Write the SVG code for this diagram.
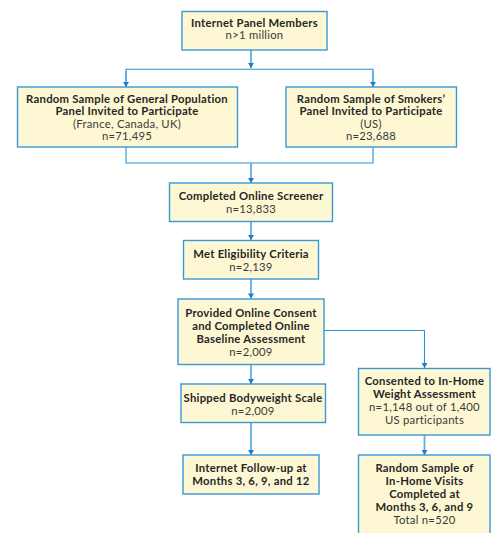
<svg xmlns="http://www.w3.org/2000/svg" width="491" height="533" viewBox="0 0 491 533">
<defs>
<style>
.box{fill:#fdf8d3;stroke:#3a98d6;stroke-width:1.4}
.t{font-family:Lato,"Open Sans","Liberation Sans",sans-serif;font-size:11.3px;letter-spacing:0.25px;fill:#3a3a3a;text-anchor:middle}
.b{font-weight:bold;fill:#262626}
.c{fill:none;stroke:#2b8fd2;stroke-width:1.1}
.v{fill:none;stroke:#5eaee4;stroke-width:1.8}
</style>
<marker id="ad" markerWidth="6" markerHeight="6" refX="3" refY="6" markerUnits="userSpaceOnUse" viewBox="0 0 6 6">
<path d="M0,1 L6,1 L3,6 Z" fill="#1f7fc6"/>
</marker>
</defs>
<rect width="491" height="533" fill="#ffffff"/>
<g id="connectors">
<path class="v" d="M251,50 V68" marker-end="url(#ad)"/>
<path class="c" d="M126,87 V69.3 H373 V87"/>
<path class="v" d="M126,71 V87" marker-end="url(#ad)"/>
<path class="v" d="M373,71 V87" marker-end="url(#ad)"/>
<path class="c" d="M126,147 V163 H373 V147"/>
<path class="v" d="M251,163 V183" marker-end="url(#ad)"/>
<path class="v" d="M251,222 V240" marker-end="url(#ad)"/>
<path class="v" d="M251,279 V298.5" marker-end="url(#ad)"/>
<path class="v" d="M251,365 V384" marker-end="url(#ad)"/>
<path class="v" d="M251,423 V455" marker-end="url(#ad)"/>
<path class="c" d="M324,330.5 H424.5 V368" marker-end="url(#ad)"/>
<path class="v" d="M424.5,435 V455" marker-end="url(#ad)"/>
</g>
<g id="n1"><rect class="box" x="182" y="11.5" width="145" height="38.5"/>
<text class="t b" x="254.5" y="26.5">Internet Panel Members</text>
<text class="t" x="254.5" y="38.5">n&gt;1 million</text></g>
<g id="n2"><rect class="box" x="17.5" y="87" width="220" height="60"/>
<text class="t b" x="127" y="102.5">Random Sample of General Population</text>
<text class="t b" x="127" y="115">Panel Invited to Participate</text>
<text class="t" x="127" y="128">(France, Canada, UK)</text>
<text class="t" x="127" y="139.5">n=71,495</text></g>
<g id="n3"><rect class="box" x="286" y="87" width="170.5" height="60"/>
<text class="t b" x="371" y="102.5">Random Sample of Smokers’</text>
<text class="t b" x="371" y="115">Panel Invited to Participate</text>
<text class="t" x="371" y="128">(US)</text>
<text class="t" x="371" y="139.5">n=23,688</text></g>
<g id="n4"><rect class="box" x="169.5" y="183" width="163" height="38.5"/>
<text class="t b" x="251" y="199.5">Completed Online Screener</text>
<text class="t" x="251" y="212.5">n=13,833</text></g>
<g id="n5"><rect class="box" x="183.5" y="240.5" width="135" height="38.5"/>
<text class="t b" x="251" y="257.5">Met Eligibility Criteria</text>
<text class="t" x="251" y="271">n=2,139</text></g>
<g id="n6"><rect class="box" x="178" y="299" width="146" height="65.5"/>
<text class="t b" x="251" y="317">Provided Online Consent</text>
<text class="t b" x="251" y="329.5">and Completed Online</text>
<text class="t b" x="251" y="342.5">Baseline Assessment</text>
<text class="t" x="251" y="356">n=2,009</text></g>
<g id="n7"><rect class="box" x="181" y="384" width="144.5" height="38.5"/>
<text class="t b" x="253" y="401.5">Shipped Bodyweight Scale</text>
<text class="t" x="253" y="414.5">n=2,009</text></g>
<g id="n8"><rect class="box" x="183" y="455" width="136" height="39"/>
<text class="t b" x="251" y="471.5">Internet Follow-up at</text>
<text class="t b" x="251" y="485">Months 3, 6, 9, and 12</text></g>
<g id="n9"><rect class="box" x="358.5" y="368.5" width="131.5" height="66.5"/>
<text class="t b" x="424.5" y="385">Consented to In-Home</text>
<text class="t b" x="424.5" y="398">Weight Assessment</text>
<text class="t" x="424.5" y="411">n=1,148 out of 1,400</text>
<text class="t" x="424.5" y="424">US participants</text></g>
<g id="n10"><rect class="box" x="358.5" y="455" width="131.5" height="85"/>
<text class="t b" x="424.5" y="471.5">Random Sample of</text>
<text class="t b" x="424.5" y="484.5">In-Home Visits</text>
<text class="t b" x="424.5" y="497.5">Completed at</text>
<text class="t b" x="424.5" y="511">Months 3, 6, and 9</text>
<text class="t" x="424.5" y="524">Total n=520</text></g>
</svg>
